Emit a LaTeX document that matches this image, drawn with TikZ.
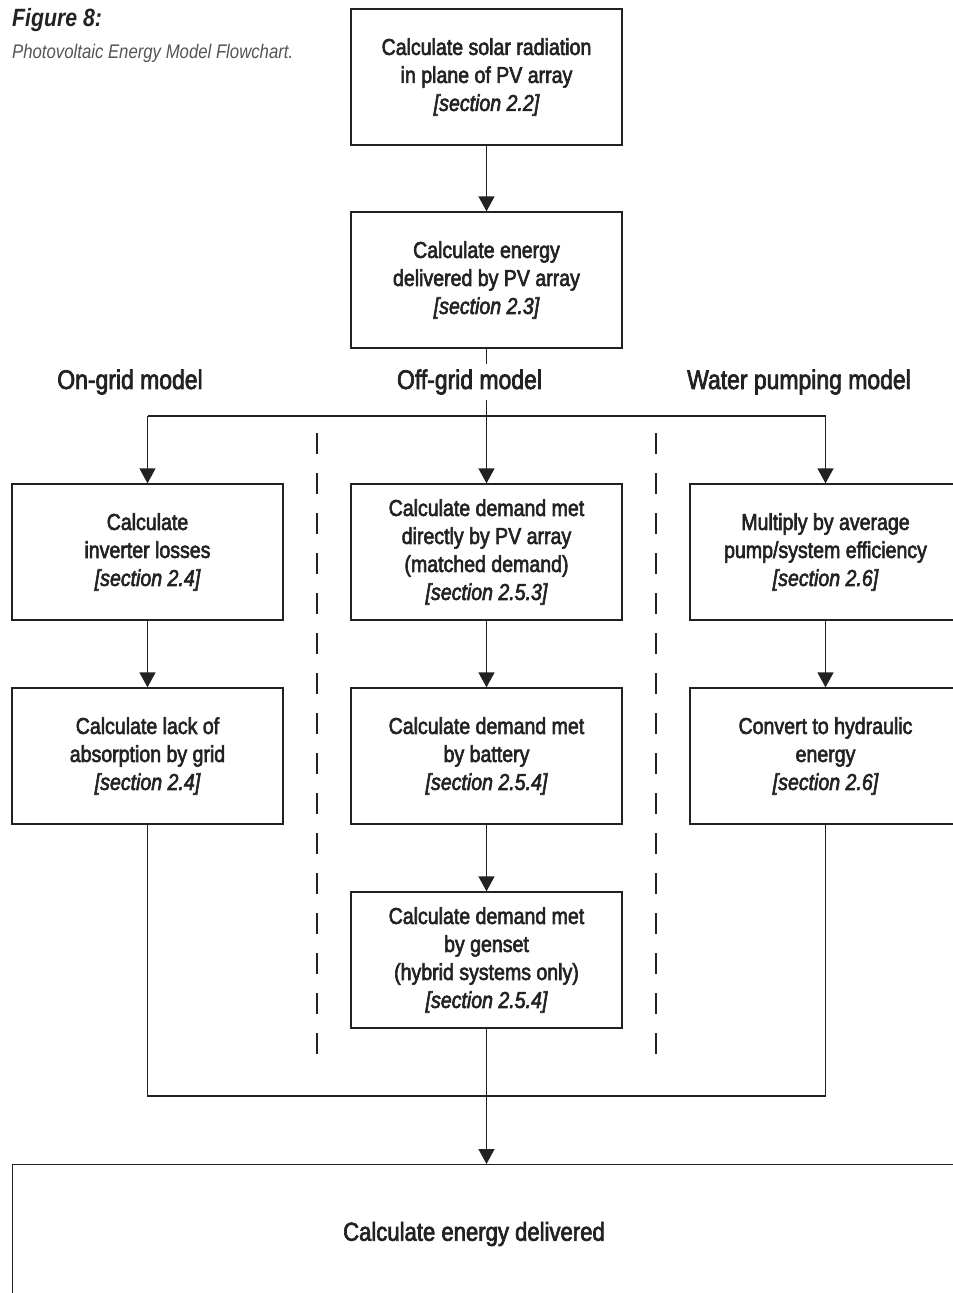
\documentclass[tikz,border=0pt]{standalone}
\usepackage{fontspec}
\setmainfont[FakeStretch=0.85]{Liberation Sans}
\newfontfamily\medfont[FakeStretch=0.85,FakeBold=2.6]{Liberation Sans}
\usetikzlibrary{arrows.meta}
\definecolor{ink}{HTML}{222222}
\definecolor{capgray}{HTML}{555555}
\tikzset{
  box/.style={draw=ink, line width=1.3pt, minimum width=271pt, minimum height=136pt, align=center, text=ink, inner sep=0pt,
    font=\medfont\fontsize{23}{28}\selectfont},
  head/.style={text=ink, inner sep=0pt, font=\medfont\fontsize{27}{32}\selectfont},
  conn/.style={draw=ink, line width=1.3pt},
  arr/.style={conn, -{Triangle[length=15pt,width=16pt]}},
  divider/.style={draw=ink, line width=1.2pt, dash pattern=on 21pt off 19pt},
}
\begin{document}
\begin{tikzpicture}[x=1pt,y=-1pt]
\useasboundingbox (0,0) rectangle (953,1293);
\clip (0,0) rectangle (953,1293);
% caption
\node[anchor=west, inner sep=0pt, text=ink, font=\fontsize{25}{28}\selectfont\bfseries\itshape] (fig) at (12,20) {Figure 8:};
\node[anchor=west, inner sep=0pt, text=capgray, font=\fontsize{19.7}{24}\selectfont\itshape] (cap) at (12,53) {Photovoltaic Energy Model Flowchart.};
% top boxes
\node[box] (b1) at (486.5,77) {Calculate solar radiation\\in plane of PV array\\\itshape[section 2.2]};
\node[box] (b2) at (486.5,280) {Calculate energy\\delivered by PV array\\\itshape[section 2.3]};
% headings
\node[head] (hon) at (130,382) {On-grid model};
\node[head] (hoff) at (469.5,382) {Off-grid model};
\node[head] (hwat) at (799,382) {Water pumping model};
% left column
\node[box] (l1) at (147.5,552) {Calculate\\inverter losses\\\itshape[section 2.4]};
\node[box] (l2) at (147.5,756) {Calculate lack of\\absorption by grid\\\itshape[section 2.4]};
% middle column
\node[box] (m1) at (486.5,552) {Calculate demand met\\directly by PV array\\(matched demand)\\\itshape[section 2.5.3]};
\node[box] (m2) at (486.5,756) {Calculate demand met\\by battery\\\itshape[section 2.5.4]};
\node[box] (m3) at (486.5,960) {Calculate demand met\\by genset\\(hybrid systems only)\\\itshape[section 2.5.4]};
% right column
\node[box] (r1) at (825.5,552) {Multiply by average\\pump/system efficiency\\\itshape[section 2.6]};
\node[box] (r2) at (825.5,756) {Convert to hydraulic\\energy\\\itshape[section 2.6]};
% bottom box
\node[box, minimum width=960pt, minimum height=160pt, anchor=north west] (bot) at (12,1164) {};
\node[text=ink, inner sep=0pt, font=\medfont\fontsize{26}{30}\selectfont] (botlabel) at (474,1234) {Calculate energy delivered};
% coordinates
\coordinate (s1) at (486.5,364);
\coordinate (s2) at (486.5,400);
\coordinate (jtop) at (486.5,416);
\coordinate (jl) at (147.5,416);
\coordinate (jr) at (825.5,416);
\coordinate (jbot) at (486.5,1096);
\coordinate (kl) at (147.5,1096);
\coordinate (kr) at (825.5,1096);
\coordinate (d1a) at (317,433);
\coordinate (d1b) at (317,1072);
\coordinate (d2a) at (656,433);
\coordinate (d2b) at (656,1072);
% connectors
\draw[arr] (b1) -- (b2);
\draw[conn] (b2.south) -- (s1);
\draw[conn] (s2) -- (jtop);
\draw[conn] (jl) -- (jr);
\draw[arr] (jl) -- (l1.north);
\draw[arr] (jtop) -- (m1.north);
\draw[arr] (jr) -- (r1.north);
\draw[arr] (l1) -- (l2);
\draw[arr] (m1) -- (m2);
\draw[arr] (m2) -- (m3);
\draw[arr] (r1) -- (r2);
\draw[conn] (l2.south) -- (kl) -- (kr) -- (r2.south);
\draw[conn] (m3.south) -- (jbot);
\draw[arr] (jbot) -- (bot.north -| jbot);
\draw[divider] (d1a) -- (d1b);
\draw[divider] (d2a) -- (d2b);
\end{tikzpicture}
\end{document}
